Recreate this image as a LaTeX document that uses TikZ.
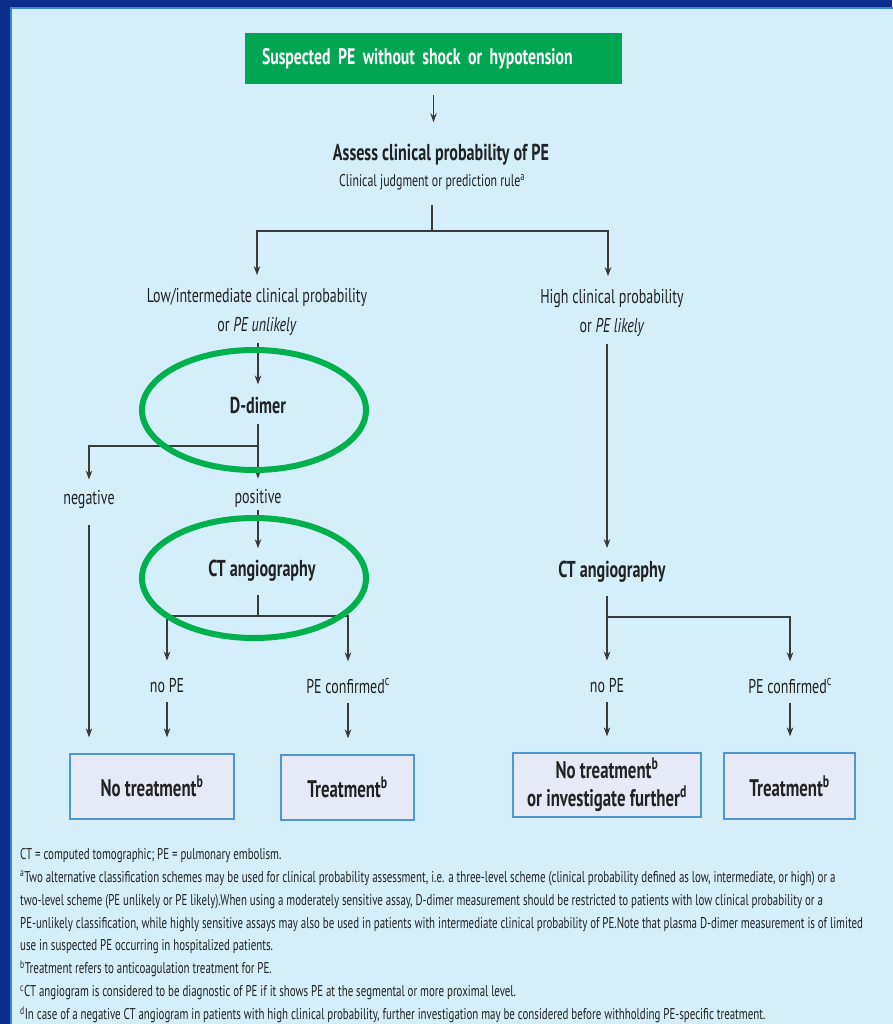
\documentclass[tikz,border=0pt]{standalone}
\usepackage{fontspec}
\setmainfont{PT Sans}[FakeStretch=0.7]
\usetikzlibrary{arrows.meta,shapes.geometric}
\definecolor{frameblue}{HTML}{0B2E8C}
\definecolor{panelblue}{HTML}{D4EEFA}
\definecolor{edgeblue}{HTML}{3F86D6}
\definecolor{pegreen}{HTML}{00A651}
\definecolor{ringgreen}{HTML}{00B04F}
\definecolor{boxfill}{HTML}{E5EAF6}
\definecolor{boxline}{HTML}{4F95CE}
\definecolor{inkgrey}{HTML}{222222}
\definecolor{linegrey}{HTML}{3A3A3A}
\begin{document}
\begin{tikzpicture}[x=1pt, y=-1pt,
  every node/.style={text=inkgrey, inner sep=0pt},
  startbox/.style={fill=pegreen, text=white, font=\fontsize{22.5}{26}\selectfont\bfseries, minimum height=51pt, text width=343pt, inner xsep=17pt, align=left},
  head/.style={font=\fontsize{23}{27}\selectfont\bfseries},
  lbl/.style={font=\fontsize{20}{29}\selectfont, align=center},
  endbox/.style={draw=boxline, line width=1.3pt, fill=boxfill, font=\fontsize{24}{28}\selectfont\bfseries, align=center},
  ring/.style={draw=ringgreen, line width=6pt, ellipse, minimum width=224pt, minimum height=120pt},
  link/.style={draw=linegrey, line width=1.3pt},
  arr/.style={link, -{Stealth[length=9pt,width=6.5pt]}}]
  \useasboundingbox (0,0) rectangle (892,1024);
  \fill[frameblue] (0,0) rectangle (892,1024);
  \filldraw[fill=panelblue, draw=edgeblue, line width=1.5pt] (11,8) rectangle (894,1026);

  % boxes and labels
  \node[startbox] (start) at (433.5,58.5) {Suspected PE without shock or hypotension};
  \node[head] (assess) at (441,155) {Assess clinical probability of PE};
  \node[font=\fontsize{17}{20}\selectfont] (rule) at (432,182) {Clinical judgment or prediction rule\textsuperscript{a}};
  \node[lbl] (low) at (257,312) {Low/intermediate clinical probability\\or \textit{PE unlikely}};
  \node[lbl] (high) at (612,313) {High clinical probability\\or \textit{PE likely}};
  \node[head] (ddimer) at (258,405) {D-dimer};
  \node[lbl] (neg) at (89,500) {negative};
  \node[lbl] (pos) at (258,498) {positive};
  \node[head] (ctL) at (262,571) {CT angiography};
  \node[head] (ctR) at (612,572) {CT angiography};
  \node[lbl] (nopeL) at (167,686) {no PE};
  \node[lbl] (confL) at (348,686) {PE confirmed\textsuperscript{c}};
  \node[lbl] (nopeR) at (607,686) {no PE};
  \node[lbl] (confR) at (790,686) {PE confirmed\textsuperscript{c}};
  \node[endbox, minimum width=164pt, minimum height=65pt] (notrL) at (152,786.5) {No treatment\textsuperscript{b}};
  \node[endbox, minimum width=133pt, minimum height=65pt] (trL) at (347.5,787.5) {Treatment\textsuperscript{b}};
  \node[endbox, minimum width=188pt, minimum height=64pt] (notrR) at (607,785) {No treatment\textsuperscript{b}\\or investigate further\textsuperscript{d}};
  \node[endbox, minimum width=131pt, minimum height=66pt] (trR) at (789.5,786) {Treatment\textsuperscript{b}};

  % branch points
  \coordinate (fork1) at (432,231);
  \coordinate (fork2) at (258,446);
  \coordinate (fork3) at (258,616);
  \coordinate (fork4) at (607,617);

  % connectors
  \draw[arr, shorten <=11pt, shorten >=22pt] (start.south) -- (start.south |- assess.north);
  \draw[link, shorten <=15pt] (fork1 |- rule.south) -- (fork1);
  \draw[arr, shorten >=13pt] (fork1) -| (low.north);
  \draw[arr, shorten >=13pt] (fork1) -| ([xshift=-4pt]high.north);
  \draw[arr, shorten <=7pt, shorten >=12pt] (low.south -| fork2) -- (fork2 |- ddimer.north);
  \draw[link, shorten <=10pt] (ddimer.south -| fork2) -- (fork2);
  \draw[arr, shorten >=11pt] (fork2) -| (neg.north);
  \draw[arr, shorten >=10pt] (fork2) -- (pos.north);
  \draw[arr, shorten <=3pt, shorten >=12pt] (pos.south -| fork2) -- (fork2 |- ctL.north);
  \draw[link, shorten <=13pt] (ctL.south -| fork3) -- (fork3);
  \draw[arr, shorten >=18pt] (fork3) -| (nopeL.north);
  \draw[arr, shorten >=17pt] (fork3) -| (confL.north);
  \draw[arr, shorten <=16pt, shorten >=16pt] (neg.south) -- (neg.south |- notrL.north);
  \draw[arr, shorten <=9pt, shorten >=16pt] (nopeL.south) -- (nopeL.south |- notrL.north);
  \draw[arr, shorten <=9pt, shorten >=16pt] (confL.south) -- (confL.south |- trL.north);
  \draw[arr, shorten <=7pt, shorten >=13pt] (high.south -| fork4) -- (fork4 |- ctR.north);
  \draw[link, shorten <=13pt] (ctR.south -| fork4) -- (fork4);
  \draw[arr, shorten >=18pt] (fork4) -- (fork4 |- nopeR.north);
  \draw[arr, shorten >=17pt] (fork4) -| (confR.north);
  \draw[arr, shorten <=9pt, shorten >=16pt] (nopeR.south) -- (nopeR.south |- notrR.north);
  \draw[arr, shorten <=9pt, shorten >=16pt] (confR.south) -- (confR.south |- trR.north);

  % highlight rings
  \node[ring] (ringD) at (254,410) {};
  \node[ring] (ringC) at (254,578) {};

  % footnotes
  \node[anchor=north west, align=left, font=\fontsize{15.6}{22.9}\selectfont] (notes) at (20,848) {%
    CT = computed tomographic; PE = pulmonary embolism.\\
    \textsuperscript{a}Two alternative classification schemes may be used for clinical probability assessment, i.e. a three-level scheme (clinical probability defined as low, intermediate, or high) or a\\
    two-level scheme (PE unlikely or PE likely).When using a moderately sensitive assay, D-dimer measurement should be restricted to patients with low clinical probability or a\\
    PE-unlikely classification, while highly sensitive assays may also be used in patients with intermediate clinical probability of PE.Note that plasma D-dimer measurement is of limited\\
    use in suspected PE occurring in hospitalized patients.\\
    \textsuperscript{b}Treatment refers to anticoagulation treatment for PE.\\
    \textsuperscript{c}CT angiogram is considered to be diagnostic of PE if it shows PE at the segmental or more proximal level.\\
    \textsuperscript{d}In case of a negative CT angiogram in patients with high clinical probability, further investigation may be considered before withholding PE-specific treatment.};
\end{tikzpicture}
\end{document}
